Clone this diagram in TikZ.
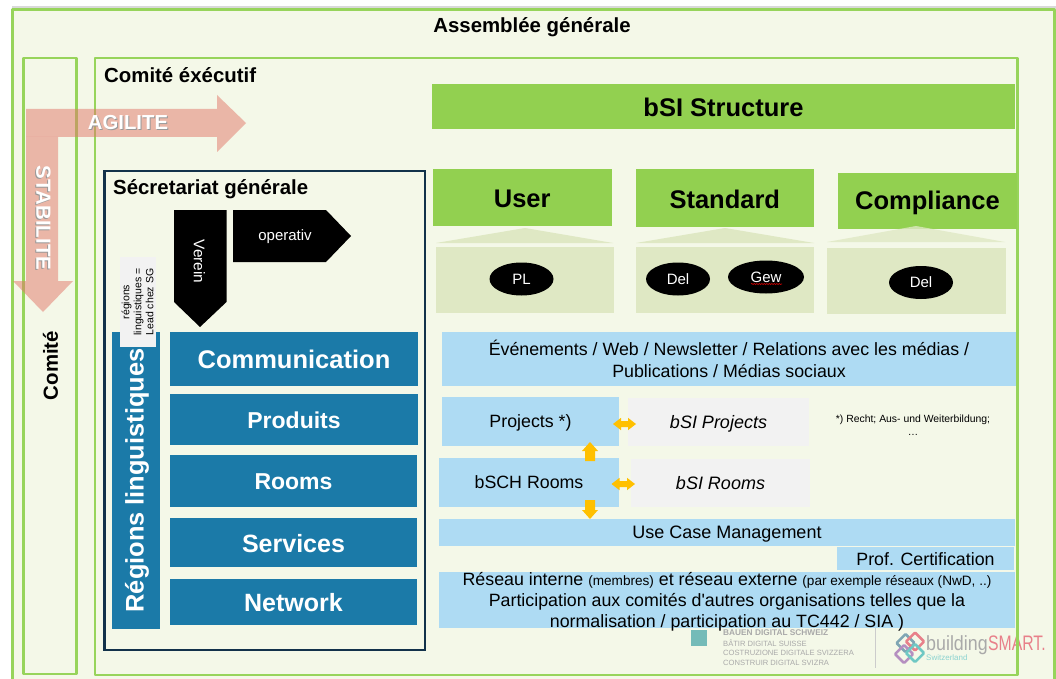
\documentclass[tikz,border=0pt]{standalone}
\usepackage{fontspec}
\setmainfont[Ligatures=TeXOff]{Liberation Sans}
\usetikzlibrary{decorations.pathmorphing,shapes.geometric}
\definecolor{frameg}{HTML}{97D45B}
\definecolor{paper}{HTML}{F4F8E8}
\definecolor{headg}{HTML}{92D050}
\definecolor{paleg}{HTML}{DFE8C4}
\definecolor{sky}{HTML}{AEDBF3}
\definecolor{deep}{HTML}{1B7AA8}
\definecolor{navy}{HTML}{12324A}
\definecolor{soft}{HTML}{F2F2F2}
\definecolor{amber}{HTML}{FFC000}
\definecolor{salmon}{HTML}{E27668}
\definecolor{logotxt}{HTML}{A9A9A9}
\definecolor{logopink}{HTML}{E8808A}
\definecolor{logoteal}{HTML}{6FC8C4}
\definecolor{logopurp}{HTML}{B58FC0}
\definecolor{logoblue}{HTML}{7FA6B4}
\newcommand{\fs}[1]{\fontsize{#1}{#1}\selectfont}
\newcommand{\dn}[2]{\raisebox{-#1pt}[\height][\depth]{#2}}
\newcommand{\bx}[7]{%
  \pgfmathsetmacro{\bw}{#4-#2}\pgfmathsetmacro{\bh}{#5-#3}%
  \pgfmathsetmacro{\cx}{(#2+#4)/2}\pgfmathsetmacro{\cy}{(#3+#5)/2}%
  \node[rectangle,inner sep=0pt,minimum width=\bw pt,minimum height=\bh pt,#6] (#1) at (\cx,\cy) {#7};}
\newcommand{\ring}[3]{%
  \pgfmathsetmacro{\xa}{#1-9}\pgfmathsetmacro{\xb}{#1+9}%
  \pgfmathsetmacro{\ya}{#2-9}\pgfmathsetmacro{\yb}{#2+9}%
  \draw[#3,line width=2.5pt,rounded corners=1pt] (\xa,#2) -- (#1,\ya) -- (\xb,#2) -- (#1,\yb) -- cycle;}
\tikzset{
  framebox/.style={draw=frameg,line width=2.6pt,line join=round},
  head/.style={fill=headg,align=center,font=\fs{25.5}\bfseries},
  pale/.style={fill=paleg},
  skybox/.style={fill=sky,align=center,font=\fs{17.8}},
  softbox/.style={fill=soft,align=center,font=\fs{18}\itshape},
  deepbox/.style={fill=deep,text=white,align=center,font=\fs{23}\bfseries},
  oval/.style={fill=black,draw=none,ellipse,inner sep=0pt,text=white,font=\fs{15}},
  title/.style={font=\fs{20.4}\bfseries,inner sep=0pt},
  pent/.style={fill=black},
  band/.style={fill=salmon,opacity=.5},
  amberarrow/.style={fill=amber},
  logosmall/.style={anchor=west,inner sep=0pt,text=logotxt,font=\fs{7.6}},
}
\begin{document}
\begin{tikzpicture}[x=1pt,y=-1pt]
\clip (0,0) rectangle (1056,679);
\fill[white] (0,0) rectangle (1056,679);
% outer surface
\fill[black!15] (12,6) rectangle (1056,9);
\fill[paper] (12.5,9.5) rectangle (1054.5,690);

% logos, beneath the frames
\fill[logoteal!90!black!90] (691,630) rectangle (707,646);
\node[logosmall,font=\fs{8.3}\bfseries] (l1) at (723,632.7) {BAUEN DIGITAL SCHWEIZ};
\node[logosmall] (l2) at (723,643) {BÂTIR DIGITAL SUISSE};
\node[logosmall] (l3) at (723,653) {COSTRUZIONE DIGITALE SVIZZERA};
\node[logosmall] (l4) at (723,663) {CONSTRUIR DIGITAL SVIZRA};
\draw[black!20,line width=.7pt] (875,628) -- (875,668);
\ring{905.5}{643}{logoblue}
\ring{915}{641.5}{logopink}
\ring{904}{654}{logopurp}
\ring{915}{653}{logoteal}
\node[anchor=base west,inner sep=0pt,text=logotxt,font=\fs{20.5}] (bld) at (926,650) {\scalebox{.87}[1]{building}};
\node[anchor=base west,inner sep=0pt,text=logopink,font=\fs{21}] (sm) at (988,650) {\scalebox{.75}[1]{SMART.}};
\node[anchor=west,inner sep=0pt,text=logoteal!80,font=\fs{8}] (sw) at (926,658) {Switzerland};

% frames
\draw[framebox] (12.5,9.5) rectangle (1054.5,690);
\draw[framebox] (23.5,58) rectangle (76.5,674);
\draw[framebox] (95,58) rectangle (1017.5,675);
\draw[navy,line width=2.2pt] (104.5,171) rectangle (425,650);

% titles
\node[title] (ag) at (532,27) {Assemblée générale};
\node[title,anchor=west] (ce) at (104,75) {Comité éxécutif};
\node[title,anchor=west] (sg) at (113,189.5) {Sécretariat générale};
\node[title,rotate=90] (cm) at (50.5,365.5) {Comité};

% right column heads
\bx{bsi}{432}{84}{1015}{129}{head}{\dn{1}{bSI Structure}}
\bx{user}{432.5}{169.5}{612}{226}{head}{\dn{1}{User}}
\bx{std}{635.5}{169}{814}{227}{head}{\dn{1}{Standard}}
\bx{cpl}{838}{173}{1017}{229}{head}{\dn{2}{Compliance}}

\fill[pale] (436,243) -- (525,228) -- (613,243) -- cycle;
\fill[pale] (636,243) -- (725,228) -- (814,243) -- cycle;
\fill[paleg,opacity=.8] (827,242) -- (916,226) -- (1005,242) -- cycle;
\bx{ubox}{435.5}{247}{614}{312.5}{pale}{}
\bx{sbox}{635.5}{247}{814}{312.5}{pale}{}
\bx{cbox}{827}{248}{1006}{314}{pale}{}
\node[oval,minimum width=64pt,minimum height=33pt] (pl) at (521.5,279) {PL};
\node[oval,minimum width=64pt,minimum height=33pt] (del1) at (678,279) {Del};
\node[oval,minimum width=76pt,minimum height=33pt] (gew) at (766,277) {Gew};
\draw[red!80!black,line width=.6pt,decorate,decoration={snake,amplitude=.6pt,segment length=2.5pt}] (751,284) -- (782,284);
\node[oval,minimum width=64pt,minimum height=33pt] (del2) at (921,282.5) {Del};

% light blue rows
\bx{ev}{442}{332}{1016}{386}{skybox}{Événements / Web / Newsletter / Relations avec les médias /\\[3.5pt]Publications / Médias sociaux}
\bx{proj}{442}{397}{619}{446}{skybox}{\dn{1.5}{Projects *)}}
\bx{bproj}{628}{398}{809}{446}{softbox}{\dn{1.5}{bSI Projects}}
\bx{room}{439}{458}{619}{507}{skybox}{bSCH Rooms}
\bx{broom}{631}{459}{810}{507}{softbox}{bSI Rooms}
\bx{uc}{439}{519}{1015}{546}{skybox,font=\fs{18}}{\dn{2}{Use Case Management}}
\bx{prof}{837}{547}{1014}{570}{skybox}{\dn{1}{Prof. Certification}}
\bx{res}{439}{572}{1015}{628}{skybox}{}
\node[inner sep=0pt,align=center,font=\fs{17.8}] (rest) at (727,601.5) {Réseau interne {\fs{13.6}(membres)} et réseau externe {\fs{13.6}(par exemple réseaux (NwD, ..)}\\[3.4pt]Participation aux comités d'autres organisations telles que la\\[3.4pt]normalisation / participation au TC442 / SIA )};
\node[inner sep=0pt,align=center,font=\fs{10.4}] (note) at (913,425) {*) Recht; Aus- und Weiterbildung;\\[3pt]…};

% amber arrows
\fill[amberarrow] (613,424) -- (621,417.8) -- (621,421) -- (628,421) -- (628,417.8) -- (636,424) -- (628,430.2) -- (628,427) -- (621,427) -- (621,430.2) -- cycle;
\fill[amberarrow] (611.5,484) -- (619.5,477.8) -- (619.5,481) -- (627,481) -- (627,477.8) -- (635,484) -- (627,490.2) -- (627,487) -- (619.5,487) -- (619.5,490.2) -- cycle;
\fill[amberarrow] (590,442) -- (598,451) -- (595,451) -- (595,461) -- (585,461) -- (585,451) -- (582,451) -- cycle;
\fill[amberarrow] (590,519) -- (598,510) -- (595,510) -- (595,500) -- (585,500) -- (585,510) -- (582,510) -- cycle;

% left column
\bx{com}{170}{332}{418}{386}{deepbox,font=\fs{25.5}\bfseries}{Communication}
\bx{prd}{170}{394}{418}{445}{deepbox}{\dn{1}{Produits}}
\bx{rms}{170}{455}{417}{506.5}{deepbox}{\dn{1}{Rooms}}
\bx{srv}{170}{518}{417}{567}{deepbox,font=\fs{25}\bfseries}{\dn{1}{Services}}
\bx{net}{170}{579}{417}{625}{deepbox,font=\fs{25}\bfseries}{\dn{1}{Network}}
\bx{reg}{112}{332}{160}{629}{fill=deep}{}
\node[text=white,inner sep=0pt,rotate=90,font=\fs{25.4}\bfseries] (regt) at (137,480.5) {Régions linguistiques};
\bx{lead}{120}{257}{156}{347}{fill=soft}{}
\node[rotate=90,inner sep=0pt,align=center,font=\fs{10.5}] (leadt) at (137.5,302) {régions\\[1.5pt]linguistiques =\\[1.5pt]Lead chez SG};

\fill[pent] (174,210) -- (226.5,210) -- (226.5,302) -- (200,327) -- (174,302) -- cycle;
\node[rotate=-90,text=white,inner sep=0pt,font=\fs{15.4}] (ver) at (199.5,261.5) {Verein};
\fill[pent] (233,210) -- (326,210) -- (351,236) -- (326,262) -- (233,262) -- cycle;
\node[text=white,inner sep=0pt,font=\fs{15}] (ope) at (285,236.5) {operativ};

% translucent bands
\fill[band] (26,109) -- (217,109) -- (217,95) -- (246,123) -- (217,152) -- (217,137) -- (26,137) -- cycle;
\fill[band] (26,137) -- (58,137) -- (58,281) -- (73,281) -- (43,312) -- (13,281) -- (26,281) -- cycle;
\node[inner sep=0pt,text=black!40,font=\fs{20.3}\bfseries] (agis) at (129,124) {AGILITE};
\node[inner sep=0pt,text=white,font=\fs{20.3}\bfseries] (agi) at (128,123) {AGILITE};
\node[inner sep=0pt,rotate=-90,text=black!40,font=\fs{20.5}\bfseries] (stas) at (42.5,219) {STABILITE};
\node[inner sep=0pt,rotate=-90,text=white,font=\fs{20.5}\bfseries] (sta) at (43.5,218) {STABILITE};
\end{tikzpicture}
\end{document}
